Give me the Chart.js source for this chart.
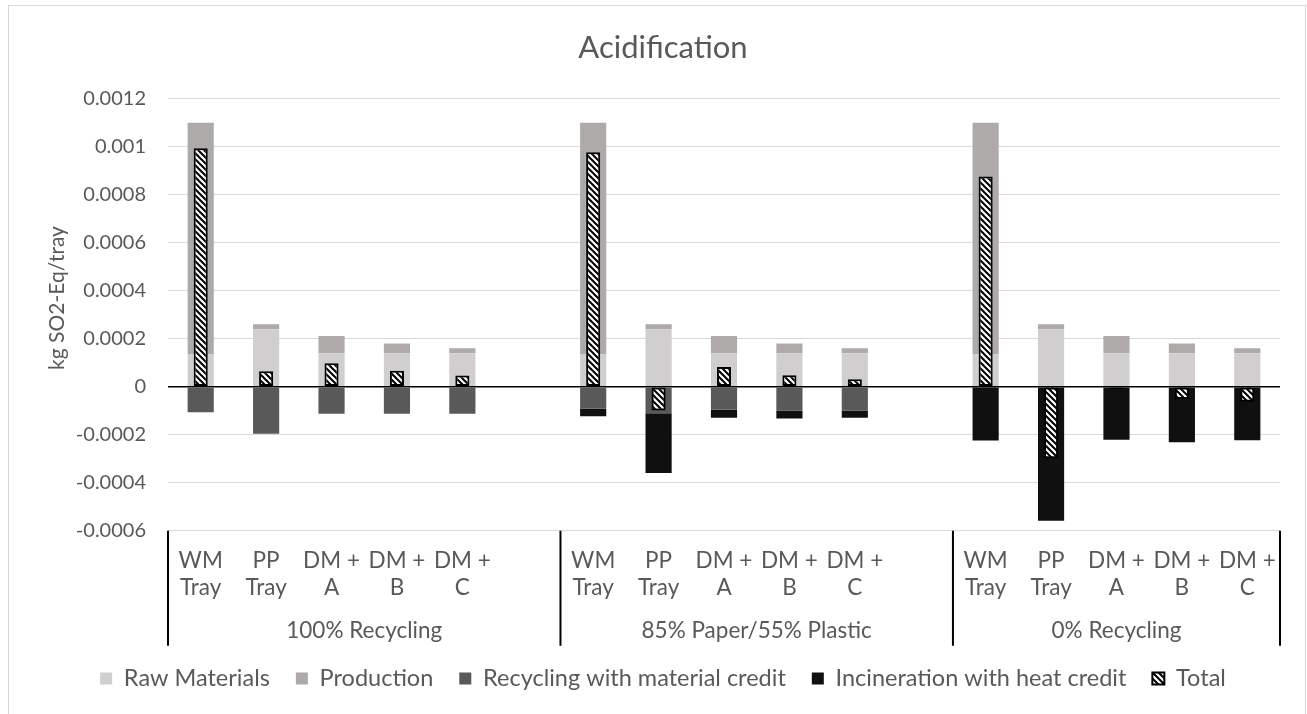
<!DOCTYPE html>
<html>
<head>
<meta charset="utf-8">
<title>Acidification</title>
<script src="https://cdn.jsdelivr.net/npm/chart.js@4/dist/chart.umd.min.js"></script>
<style>
  html, body { margin: 0; padding: 0; background: #ffffff; }
  canvas { display: block; }
</style>
</head>
<body>
<canvas id="chart" width="1307" height="714"></canvas>
<script>
// Product categories per scenario; an empty slot separates the scenarios.
const categories = [
  ['WM', 'Tray'], ['PP', 'Tray'], ['DM +', 'A'], ['DM +', 'B'], ['DM +', 'C'], '',
  ['WM', 'Tray'], ['PP', 'Tray'], ['DM +', 'A'], ['DM +', 'B'], ['DM +', 'C'], '',
  ['WM', 'Tray'], ['PP', 'Tray'], ['DM +', 'A'], ['DM +', 'B'], ['DM +', 'C']
];

// Scenario names and the category index range each one covers.
const scenarios = ['100% Recycling', '85% Paper/55% Plastic', '0% Recycling'];
const scenarioRanges = [[0, 5], [6, 11], [12, 16]];

// kg SO2-Eq per tray, by life-cycle stage.
const rawMaterials = [
  0.000134, 0.00024, 0.00014, 0.00014, 0.00014, null,
  0.000134, 0.00024, 0.00014, 0.00014, 0.00014, null,
  0.000134, 0.00024, 0.00014, 0.00014, 0.00014
];
const production = [
  0.000966, 0.00002, 0.000071, 0.00004, 0.00002, null,
  0.000966, 0.00002, 0.000071, 0.00004, 0.00002, null,
  0.000966, 0.00002, 0.000071, 0.00004, 0.00002
];
const recyclingCredit = [
  -0.000106, -0.000196, -0.000113, -0.000113, -0.000113, null,
  -0.000092, -0.00011, -0.000096, -0.000099, -0.000099, null,
  null, null, null, null, null
];
const incinerationCredit = [
  null, null, null, null, null, null,
  -0.000031, -0.000249, -0.000033, -0.000033, -0.00003, null,
  -0.000224, -0.000558, -0.000221, -0.000231, -0.000223
];
const totals = [
  0.000994, 0.000064, 0.000098, 0.000067, 0.000047, null,
  0.000977, -0.000099, 0.000082, 0.000048, 0.000031, null,
  0.000876, -0.000298, -0.00001, -0.000051, -0.000063
];

// Y axis range and tick step.
const yMin = -0.0006;
const yMax = 0.0012;
const yStep = 0.0002;

const TEXT = '#595959';
const FONT = 'Lato, "Open Sans", "DejaVu Sans", sans-serif';

// Diagonal black/white hatch used for the Total bars.
function makeHatch() {
  const s = 6;
  const c = document.createElement('canvas');
  c.width = s; c.height = s;
  const g = c.getContext('2d');
  g.fillStyle = '#ffffff';
  g.fillRect(0, 0, s, s);
  g.strokeStyle = '#000000';
  g.lineWidth = 2;
  g.beginPath();
  g.moveTo(-1, -1); g.lineTo(s + 1, s + 1);
  g.moveTo(-1, s - 1); g.lineTo(1, s + 1);
  g.moveTo(s - 1, -1); g.lineTo(s + 1, 1);
  g.stroke();
  return g.createPattern(c, 'repeat');
}
const hatch = makeHatch();

// Outer chart frame.
const framePlugin = {
  id: 'frame',
  beforeDraw(chart) {
    const ctx = chart.ctx;
    ctx.save();
    ctx.strokeStyle = '#d9d9d9';
    ctx.lineWidth = 1;
    ctx.strokeRect(8.5, 5.5, chart.width - 10, chart.height + 20);
    ctx.restore();
  }
};

// Rotated y-axis title.
const yTitlePlugin = {
  id: 'yTitle',
  afterDraw(chart) {
    const ctx = chart.ctx;
    ctx.save();
    ctx.translate(57, 298);
    ctx.rotate(-Math.PI / 2);
    ctx.fillStyle = TEXT;
    ctx.font = '21px ' + FONT;
    ctx.textAlign = 'center';
    ctx.textBaseline = 'middle';
    ctx.fillText('kg SO2-Eq/tray', 0, 0);
    ctx.restore();
  }
};

// Second category level: scenario names with divider lines.
const scenarioPlugin = {
  id: 'scenarios',
  afterDraw(chart) {
    const x = chart.scales.x;
    const area = chart.chartArea;
    const ctx = chart.ctx;
    const slot = x.getPixelForValue(1) - x.getPixelForValue(0);
    const lineBottom = area.bottom + 115;
    ctx.save();
    ctx.strokeStyle = '#000000';
    ctx.lineWidth = 2;
    ctx.fillStyle = TEXT;
    ctx.font = '22.5px ' + FONT;
    ctx.textAlign = 'center';
    ctx.textBaseline = 'middle';
    scenarioRanges.forEach((r, i) => {
      const left = x.getPixelForValue(r[0]) - slot / 2;
      const right = x.getPixelForValue(r[1]) + slot / 2;
      ctx.beginPath();
      ctx.moveTo(left, area.bottom);
      ctx.lineTo(left, lineBottom);
      if (i === scenarioRanges.length - 1) {
        ctx.moveTo(right, area.bottom);
        ctx.lineTo(right, lineBottom);
      }
      ctx.stroke();
      ctx.fillText(scenarios[i], (left + right) / 2, area.bottom + 100);
    });
    ctx.restore();
  }
};

const stageBar = { stack: 'stages', order: 1, categoryPercentage: 0.4, barPercentage: 1.0, borderWidth: 0 };

new Chart(document.getElementById('chart'), {
  type: 'bar',
  data: {
    labels: categories,
    datasets: [
      Object.assign({ label: 'Raw Materials', data: rawMaterials, backgroundColor: '#d0cece' }, stageBar),
      Object.assign({ label: 'Production', data: production, backgroundColor: '#aeaaaa' }, stageBar),
      Object.assign({ label: 'Recycling with material credit', data: recyclingCredit, backgroundColor: '#595959' }, stageBar),
      Object.assign({ label: 'Incineration with heat credit', data: incinerationCredit, backgroundColor: '#101010' }, stageBar),
      {
        label: 'Total',
        data: totals,
        stack: 'total',
        order: 0,
        grouped: false,
        categoryPercentage: 1.0,
        barPercentage: 0.215,
        backgroundColor: hatch,
        borderColor: '#000000',
        borderWidth: 2,
        borderSkipped: false
      }
    ]
  },
  options: {
    responsive: false,
    devicePixelRatio: 1,
    animation: false,
    layout: { padding: { left: 19, right: 0, top: 0, bottom: 13.75 } },
    plugins: {
      title: {
        display: true,
        text: 'Acidification',
        color: TEXT,
        font: { family: FONT, size: 31, weight: 'normal', lineHeight: 1.2 },
        padding: { top: 29, bottom: 32.5 }
      },
      legend: {
        position: 'bottom',
        labels: {
          color: TEXT,
          font: { family: FONT, size: 23.5 },
          boxWidth: 12,
          boxHeight: 12,
          padding: 26,
          sort: (a, b) => a.datasetIndex - b.datasetIndex
        }
      },
      tooltip: { enabled: false }
    },
    scales: {
      x: {
        stacked: true,
        grid: { display: false, drawTicks: false },
        border: { display: false },
        ticks: {
          color: TEXT,
          font: { family: FONT, size: 22.5, lineHeight: 1.2 },
          padding: 16.5,
          autoSkip: false,
          maxRotation: 0,
          minRotation: 0
        },
        afterFit(scale) { scale.height = 110; }
      },
      y: {
        stacked: true,
        min: yMin,
        max: yMax,
        border: { display: false },
        grid: {
          drawTicks: false,
          color: (c) => (c.tick && Math.abs(c.tick.value) < 1e-12 ? '#000000' : '#d9d9d9'),
          lineWidth: (c) => (c.tick && Math.abs(c.tick.value) < 1e-12 ? 1.5 : 1)
        },
        ticks: {
          stepSize: yStep,
          color: TEXT,
          font: { family: FONT, size: 20 },
          padding: 22,
          callback: (v) => String(Number(Number(v).toFixed(4)))
        },
        afterFit(scale) { scale.width = 149; }
      },
      // Empty right-hand margin beside the plot.
      yRight: {
        position: 'right',
        display: true,
        grid: { display: false, drawTicks: false },
        border: { display: false },
        ticks: { display: false },
        afterFit(scale) { scale.width = 27; }
      }
    }
  },
  plugins: [framePlugin, yTitlePlugin, scenarioPlugin]
});
</script>
</body>
</html>
